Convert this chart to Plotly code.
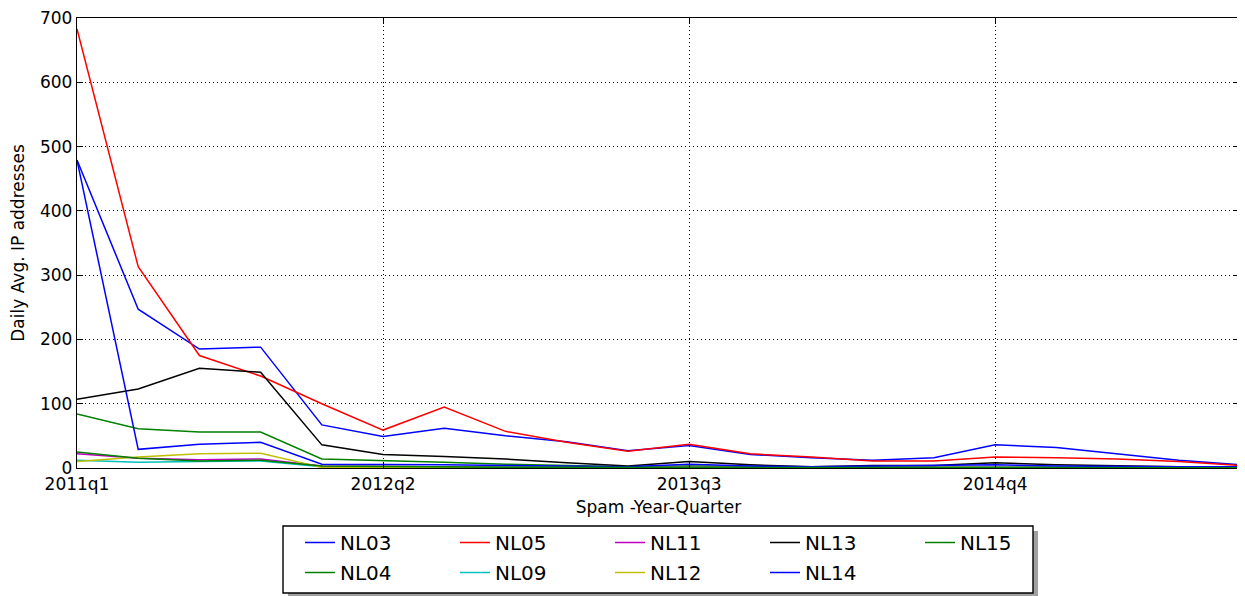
import plotly.graph_objects as go

quarters = [f"{y}q{q}" for y in range(2011, 2016) for q in range(1, 5)]
tick_labels = ["2011q1", "2012q2", "2013q3", "2014q4"]

NL03 = [479, 247, 185, 188, 67, 49, 62, 50, 41, 27, 35, 21, 16, 12, 16, 36, 32, 22, 12, 5]
NL04 = [84, 61, 56, 56, 14, 12, 9, 6, 4, 2, 3, 2, 1, 1, 1, 1, 1, 1, 1, 1]
NL05 = [683, 313, 175, 143, 100, 59, 95, 57, 40, 26, 37, 22, 17, 11, 11, 17, 16, 14, 10, 4]
NL09 = [12, 9, 10, 11, 2, 1, 1, 1, 1, 0.5, 0.5, 0.5, 0.5, 0.5, 0.5, 0.5, 0.5, 0.5, 0.5, 0.5]
NL11 = [22, 15, 13, 14, 3, 2, 2, 1, 1, 1, 1, 1, 1, 1, 1, 1, 1, 1, 0.5, 0.5]
NL12 = [10, 17, 22, 23, 1, 1, 1, 1, 0.5, 0.5, 0.5, 0.5, 0.5, 0.5, 0.5, 0.5, 0.5, 0.5, 0.5, 0.5]
NL13 = [107, 123, 155, 149, 36, 21, 18, 14, 8, 3, 10, 5, 2, 4, 4, 8, 5, 3, 2, 1]
NL14 = [479, 29, 37, 40, 6, 6, 5, 4, 3, 2, 6, 3, 2, 3, 3, 5, 3, 2, 2, 2]
NL15 = [25, 15, 11, 12, 3, 2, 2, 1, 1, 1, 1, 1, 1, 1, 1, 1, 1, 1, 0.5, 0.5]

series = [
    ("NL03", NL03, "#0000ff", "legend"),
    ("NL04", NL04, "#008000", "legend2"),
    ("NL05", NL05, "#ff0000", "legend"),
    ("NL09", NL09, "#00bfbf", "legend2"),
    ("NL11", NL11, "#bf00bf", "legend"),
    ("NL12", NL12, "#bfbf00", "legend2"),
    ("NL13", NL13, "#000000", "legend"),
    ("NL14", NL14, "#0000ff", "legend2"),
    ("NL15", NL15, "#008000", "legend"),
]

OFF = 8  # page body margin
W, H = 1245 - OFF, 596 - OFF
L, R, T, B = 77 - OFF, 5, 18 - OFF, 128
PW, PH = W - L - R, H - T - B

def px_x(x):
    return (x - OFF - L) / PW

def px_y(y):
    return (H - B - (y - OFF)) / PH

idx = list(range(len(quarters)))
fig = go.Figure()
for name, vals, color, lg in series:
    fig.add_trace(go.Scatter(
        x=idx, y=vals, mode="lines", name=name,
        line=dict(color=color, width=1.5),
        legend=lg, customdata=quarters,
    ))

tickvals = [quarters.index(t) for t in tick_labels]

font = dict(family="DejaVu Sans", size=17, color="black")
legfont = dict(family="DejaVu Sans", size=20, color="black")
fig.update_layout(
    width=W, height=H,
    margin=dict(l=L, r=R, t=T, b=B, autoexpand=False),
    plot_bgcolor="white", paper_bgcolor="white",
    font=font,
    xaxis=dict(
        range=[0, len(quarters) - 1], tickvals=tickvals, ticktext=tick_labels,
        showline=True, linecolor="black", linewidth=1.4, mirror="ticks",
        ticks="inside", ticklen=6, tickcolor="black", automargin=False,
        ticklabeloverflow="allow",
        showgrid=True, gridcolor="black", gridwidth=1, griddash="1px,3px",
        zeroline=False,
        title=dict(text="Spam -Year-Quarter", font=font, standoff=8),
    ),
    yaxis=dict(
        range=[0, 700], tickvals=list(range(0, 701, 100)),
        showline=True, linecolor="black", linewidth=1.4, mirror="ticks",
        ticks="inside", ticklen=6, tickcolor="black", automargin=False,
        ticklabeloverflow="allow",
        showgrid=True, gridcolor="black", gridwidth=1, griddash="1px,3px",
        zeroline=False,
        title=dict(text="Daily Avg. IP addresses", font=font, standoff=10),
    ),
    legend=dict(
        orientation="h", x=px_x(300), y=px_y(523), xanchor="left", yanchor="top",
        entrywidth=110, font=legfont,
        bgcolor="rgba(0,0,0,0)", borderwidth=0, tracegroupgap=0,
    ),
    legend2=dict(
        orientation="h", x=px_x(300), y=px_y(553), xanchor="left", yanchor="top",
        entrywidth=110, font=legfont,
        bgcolor="rgba(0,0,0,0)", borderwidth=0, tracegroupgap=0,
    ),
    shapes=[
        dict(type="rect", xref="paper", yref="paper",
             x0=px_x(288), x1=px_x(1038), y0=px_y(531), y1=px_y(598),
             fillcolor="#a0a0a0", line=dict(width=0), layer="below"),
        dict(type="rect", xref="paper", yref="paper",
             x0=px_x(283), x1=px_x(1033), y0=px_y(526), y1=px_y(593),
             fillcolor="white", line=dict(color="black", width=1.4), layer="below"),
    ],
)

fig.write_html("out.html")
